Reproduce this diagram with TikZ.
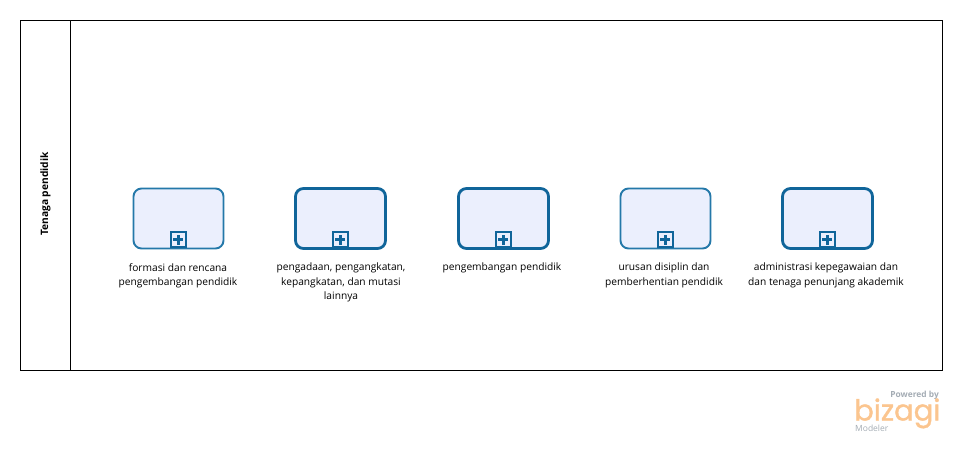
\documentclass[tikz,border=0pt]{standalone}
\usepackage{fontspec}
\setmainfont{Open Sans}
\newfontfamily\logofont[FakeBold=1.2]{Poppins}
\definecolor{bpmnline}{HTML}{10659A}
\definecolor{bpmnthin}{HTML}{2478A9}
\definecolor{bpmnfill}{HTML}{EBEFFD}
\definecolor{logoorange}{HTML}{FBC58F}
\definecolor{logogray}{HTML}{A4ACB4}
\tikzset{
  lanebox/.style={draw=black,line width=0.9pt,fill=white},
  taskthin/.style={draw=bpmnthin,line width=1.9pt,fill=bpmnfill,rounded corners=8pt,minimum width=90pt,minimum height=60pt,inner sep=0pt},
  taskthick/.style={draw=bpmnline,line width=2.8pt,fill=bpmnfill,rounded corners=8pt,minimum width=90pt,minimum height=60pt,inner sep=0pt},
  marker/.style={draw=bpmnline,line width=2pt,fill=bpmnfill,minimum size=15.5pt,inner sep=0pt},
  plusbar/.style={draw=bpmnline,line width=3.2pt},
  tasklabel/.style={align=center,font=\fontsize{10.2}{14.5}\selectfont,text=black,anchor=north,inner sep=0pt},
}
\begin{document}
\begin{tikzpicture}[x=1pt,y=-1pt]
\useasboundingbox (0,0) rectangle (962,463);
\draw[lanebox] (20.5,20.5) rectangle (942.5,370.5);
\draw[lanebox] (70.5,20.5) -- (70.5,370.5);
\node[rotate=90,font=\fontsize{10.2}{12}\selectfont\bfseries,inner sep=0pt] (lane) at (45.5,194) {Tenaga pendidik};
\foreach \nm/\cx/\st in {a/178.5/taskthin,b/340.5/taskthick,c/503.5/taskthick,d/665.5/taskthin,e/827.5/taskthick}{
  \node[\st] (task\nm) at (\cx,218.5) {};
  \node[marker] (mark\nm) at (\cx-0.2,239.5) {};
  \draw[plusbar] ([xshift=-5pt]mark\nm.center) -- ([xshift=5pt]mark\nm.center);
  \draw[plusbar] ([yshift=-5pt]mark\nm.center) -- ([yshift=5pt]mark\nm.center);
}
\node[tasklabel] (la) at (178,263) {formasi dan rencana\\pengembangan pendidik};
\node[tasklabel] (lb) at (341,263) {pengadaan, pengangkatan,\\kepangkatan, dan mutasi\\lainnya};
\node[tasklabel] (lc) at (502,263) {pengembangan pendidik};
\node[tasklabel] (ld) at (664,263) {urusan disiplin dan\\pemberhentian pendidik};
\node[tasklabel] (le) at (826,263) {administrasi kepegawaian dan\\dan tenaga penunjang akademik};
\node[font=\fontsize{8.4}{9}\selectfont\bfseries,text=logogray,anchor=east,inner sep=0pt] (powered) at (939,395) {Powered by};
\node[font=\logofont\fontsize{29}{29}\selectfont,text=logoorange,anchor=base west,inner sep=0pt,text depth=0pt] (logo) at (854,420.5) {bizagi};
\node[font=\fontsize{8.5}{10}\selectfont,text=logogray,anchor=west,inner sep=0pt] (modeler) at (855,428) {Modeler};
\end{tikzpicture}
\end{document}
